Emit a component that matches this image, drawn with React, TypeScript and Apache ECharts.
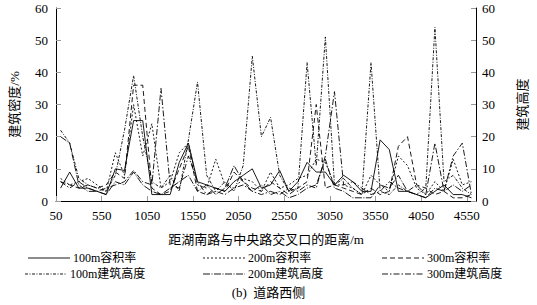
import React, { useEffect, useRef } from "react";
import * as echarts from "echarts";

const distances = [100, 200, 300, 400, 500, 600, 700, 800, 900, 1000, 1100, 1200, 1300, 1400, 1500, 1600, 1700, 1800, 1900, 2000, 2100, 2200, 2300, 2400, 2500, 2600, 2700, 2800, 2900, 3000, 3100, 3200, 3300, 3400, 3500, 3600, 3700, 3800, 3900, 4000, 4100, 4200, 4300, 4400, 4500, 4600];
const xTickValues = [50, 550, 1050, 1550, 2050, 2550, 3050, 3550, 4050, 4550];

const far100 = [4, 9, 4, 4, 3, 2, 10, 9.5, 25, 25, 2, 2, 2, 12, 18, 6, 5, 4, 3, 6, 8, 10, 4, 5, 9.5, 3, 6, 12, 9, 9, 5, 8, 6, 3, 3, 19, 16, 3, 3, 2, 1, 3, 5, 2, 2, 1];
const far200 = [7, 5, 6, 7, 5, 3, 15, 8, 30, 14, 24, 4, 6, 15, 18, 5, 4, 13, 5, 4, 7, 6, 3, 9, 4, 5, 7, 8, 13, 12, 5, 5, 4, 2, 8, 5, 3, 14, 11, 4, 2, 6, 3, 13, 5, 6];
const far300 = [6, 5, 4, 5, 4, 5, 9, 7, 36, 36, 4, 2, 3, 10, 17, 3, 2, 4, 3, 9, 6, 4, 3, 6, 4, 2, 4, 6, 30, 4, 5, 4, 3, 2, 4, 2, 3, 17, 20, 5, 4, 2, 3, 1, 1, 2];
const height100 = [22, 18, 7, 5, 4, 3, 8, 22, 39, 20, 6, 4, 8, 3, 19, 37, 8, 3, 6, 3, 11, 45, 20, 26, 8, 3, 4, 43, 11, 51, 5, 7, 4, 2, 43, 3, 2, 5, 3, 2, 4, 54, 6, 8, 4, 2];
const height200 = [20, 18, 5, 3, 3, 2, 6, 5, 9, 5, 3, 2, 4, 6, 8, 3, 5, 2, 4, 11, 6, 3, 5, 2, 3, 1, 2, 4, 5, 13, 4, 3, 1, 1, 1, 5, 4, 8, 3, 2, 1, 4, 3, 5, 3, 5];
const height300 = [6, 4, 6, 4, 3, 4, 5, 6, 9.5, 6, 5, 35, 5, 4, 14, 6, 2, 3, 2, 4, 5, 3, 2, 3, 2, 4, 3, 5, 4, 14, 34, 5, 6, 4, 2, 3, 6, 4, 3, 5, 2, 18, 3, 14, 18, 2];

const seriesNames = ["100m容积率", "200m容积率", "300m容积率", "100m建筑高度", "200m建筑高度", "300m建筑高度"];

const FONT = "'Liberation Serif', 'Times New Roman', 'Noto Sans CJK SC', serif";

export default function App() {
  const ref = useRef<HTMLDivElement>(null);
  useEffect(() => {
    if (!ref.current) return;
    const chart = echarts.init(ref.current, undefined, { renderer: "svg" });
    const values = [far100, far200, far300, height100, height200, height300];
    const dashes: any[] = [null, [2, 2], [5, 3], [3, 1.5, 1, 1.5], [7, 1.5, 1, 1.5], [6, 2, 1.5, 2]];
    const series = values.map((arr, k) => ({
      name: seriesNames[k],
      type: "line",
      yAxisIndex: k < 3 ? 0 : 1,
      symbol: "none",
      data: distances.map((d, i) => [d, arr[i]]),
      lineStyle: { color: "#000", width: 0.9, type: dashes[k] ? dashes[k] : "solid" },
      itemStyle: { color: "#000" },
    }));
    const legendPos = [
      [28, 258],
      [203, 258],
      [382, 258],
      [25, 274],
      [203, 274],
      [382, 274],
    ];
    const graphics: any[] = [];
    seriesNames.forEach((n, k) => {
      const [x, y] = legendPos[k];
      graphics.push({
        type: "line",
        shape: { x1: x, y1: y, x2: x + 42, y2: y },
        style: { stroke: "#000", lineWidth: 0.9, lineDash: dashes[k] || undefined },
        silent: true,
      });
      graphics.push({
        type: "text",
        x: x + 45,
        y: y,
        style: { text: n, font: `12px ${FONT}`, fill: "#000", verticalAlign: "middle", align: "left" },
        silent: true,
      });
    });
    const axisCommon = {
      min: 0,
      max: 60,
      interval: 10,
      type: "value",
      splitLine: { show: false },
      axisLine: { show: true, lineStyle: { color: "#000", width: 1 } },
      axisTick: { show: true, inside: true, length: 5, lineStyle: { color: "#999" } },
      nameLocation: "middle",
      nameRotate: 90,
      nameTextStyle: { fontSize: 13, fontFamily: FONT, color: "#000" },
    };
    chart.setOption({
      animation: false,
      backgroundColor: "#fff",
      title: {
        text: "(b)  道路西侧",
        left: "center",
        top: 286,
        padding: 0,
        textStyle: { fontSize: 13, fontWeight: "normal", fontFamily: FONT, color: "#000" },
      },
      graphic: graphics,
      grid: { left: 52, right: 47, top: 8, bottom: 104 },
      xAxis: {
        type: "value",
        min: 50,
        max: 4650,
        splitLine: { show: false },
        axisLine: { show: true, lineStyle: { color: "#000", width: 1 } },
        axisTick: { show: true, inside: true, length: 5, customValues: xTickValues, lineStyle: { color: "#999" } },
        axisLabel: {
          customValues: xTickValues,
          margin: 8,
          fontSize: 13,
          fontFamily: FONT,
          color: "#000",
          formatter: (v: number) => String(v),
        },
        name: "距湖南路与中央路交叉口的距离/m",
        nameLocation: "middle",
        nameGap: 32,
        nameTextStyle: { fontSize: 13, fontFamily: FONT, color: "#000" },
      },
      yAxis: [
        {
          ...axisCommon,
          position: "left",
          name: "建筑密度/%",
          nameGap: 35,
          axisLabel: { margin: 8, fontSize: 13, fontFamily: FONT, color: "#000" },
        },
        {
          ...axisCommon,
          position: "right",
          name: "建筑高度",
          nameGap: 40,
          axisLabel: { margin: 6, fontSize: 13, fontFamily: FONT, color: "#000" },
        },
      ],
      series,
    } as any);
    return () => chart.dispose();
  }, []);
  return (
    <div
      ref={ref}
      style={{ position: "fixed", left: 0, top: 0, width: 537, height: 305, background: "#fff" }}
    />
  );
}
